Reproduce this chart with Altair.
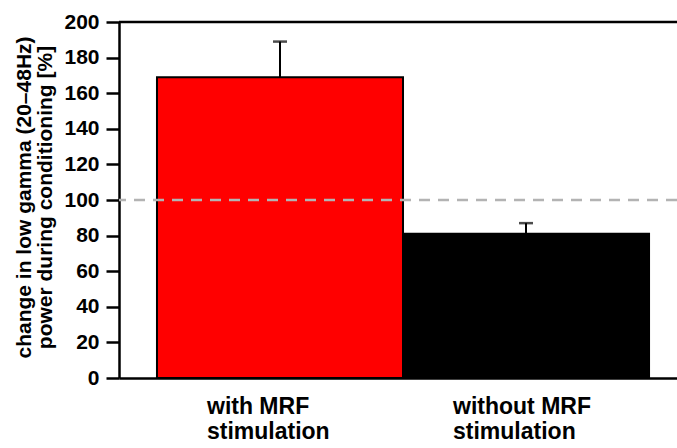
import altair as alt
import pandas as pd

categories = ["with MRF|stimulation", "without MRF|stimulation"]
values = [169, 81]
err_upper = [189, 87]
colors = ["#ff0000", "#000000"]
ref_line = [100]
top_line = [200]
y_ticks = [0, 20, 40, 60, 80, 100, 120, 140, 160, 180, 200]

df = pd.DataFrame({"cat": categories, "val": values, "hi": err_upper, "color": colors,
                   "zero": [0] * len(categories)})

FONT = "Liberation Sans"

xscale = alt.Scale(domain=categories, paddingInner=0, paddingOuter=0.134, align=0.576)
yscale = alt.Scale(domain=[0, 200], nice=False, zero=True)

y_axis = alt.Axis(values=y_ticks, grid=False, domainWidth=2.5, domainColor="black",
                  tickColor="black", tickSize=13, tickWidth=2.5, labelPadding=7,
                  labelOverlap=False, labelFlush=False,
                  labelFont=FONT, labelFontSize=21, labelFontWeight="bold", labelColor="black",
                  title=["change in low gamma (20\u201348Hz)", "power during conditioning [%]"],
                  titleFont=FONT, titleFontSize=21, titleFontWeight="bold", titleColor="black",
                  titleAngle=-90, titleAlign="center", titleBaseline="top",
                  titleX=-106, titleY=175, titleLineHeight=21)
x_axis = alt.Axis(title=None, labels=False, ticks=False, domainWidth=2.5, domainColor="black")


def X():
    return alt.X("cat:N", scale=xscale, sort=categories, axis=x_axis)


def Y(field):
    return alt.Y(field, scale=yscale, axis=y_axis)


base = alt.Chart(df)

bars = base.mark_bar(stroke="black", strokeWidth=2).encode(
    x=X(), y=Y("val:Q"), color=alt.Color("color:N", scale=None),
)

labels = base.mark_text(lineBreak="|", align="left", baseline="top", dx=-73, dy=18,
                        font=FONT, fontSize=23, fontWeight="bold", color="black",
                        lineHeight=25).encode(x=X(), y=Y("zero:Q"), text="cat:N")

err = base.mark_rule(color="black", strokeWidth=2).encode(x=X(), y=Y("val:Q"), y2="hi:Q")

caps = base.mark_tick(color="black", thickness=2.5, size=14, orient="horizontal").encode(
    x=X(), y=Y("hi:Q"),
)

dash = alt.Chart(pd.DataFrame({"y": ref_line})).mark_rule(
    color="#b3b3b3", strokeWidth=2.5, strokeDash=[11, 8]
).encode(y=Y("y:Q"))

top = alt.Chart(pd.DataFrame({"y": top_line})).mark_rule(
    color="black", strokeWidth=2.5
).encode(y=Y("y:Q"))

chart = alt.layer(bars, dash, err, caps, top, labels).properties(
    width=558, height=356,
    padding={"left": 119, "top": 22, "right": 0, "bottom": 70},
    autosize=alt.AutoSizeParams(type="none"),
).configure_view(stroke=None).configure(background="white")

chart.save("out.html", embed_options={"renderer": "svg", "actions": False})
